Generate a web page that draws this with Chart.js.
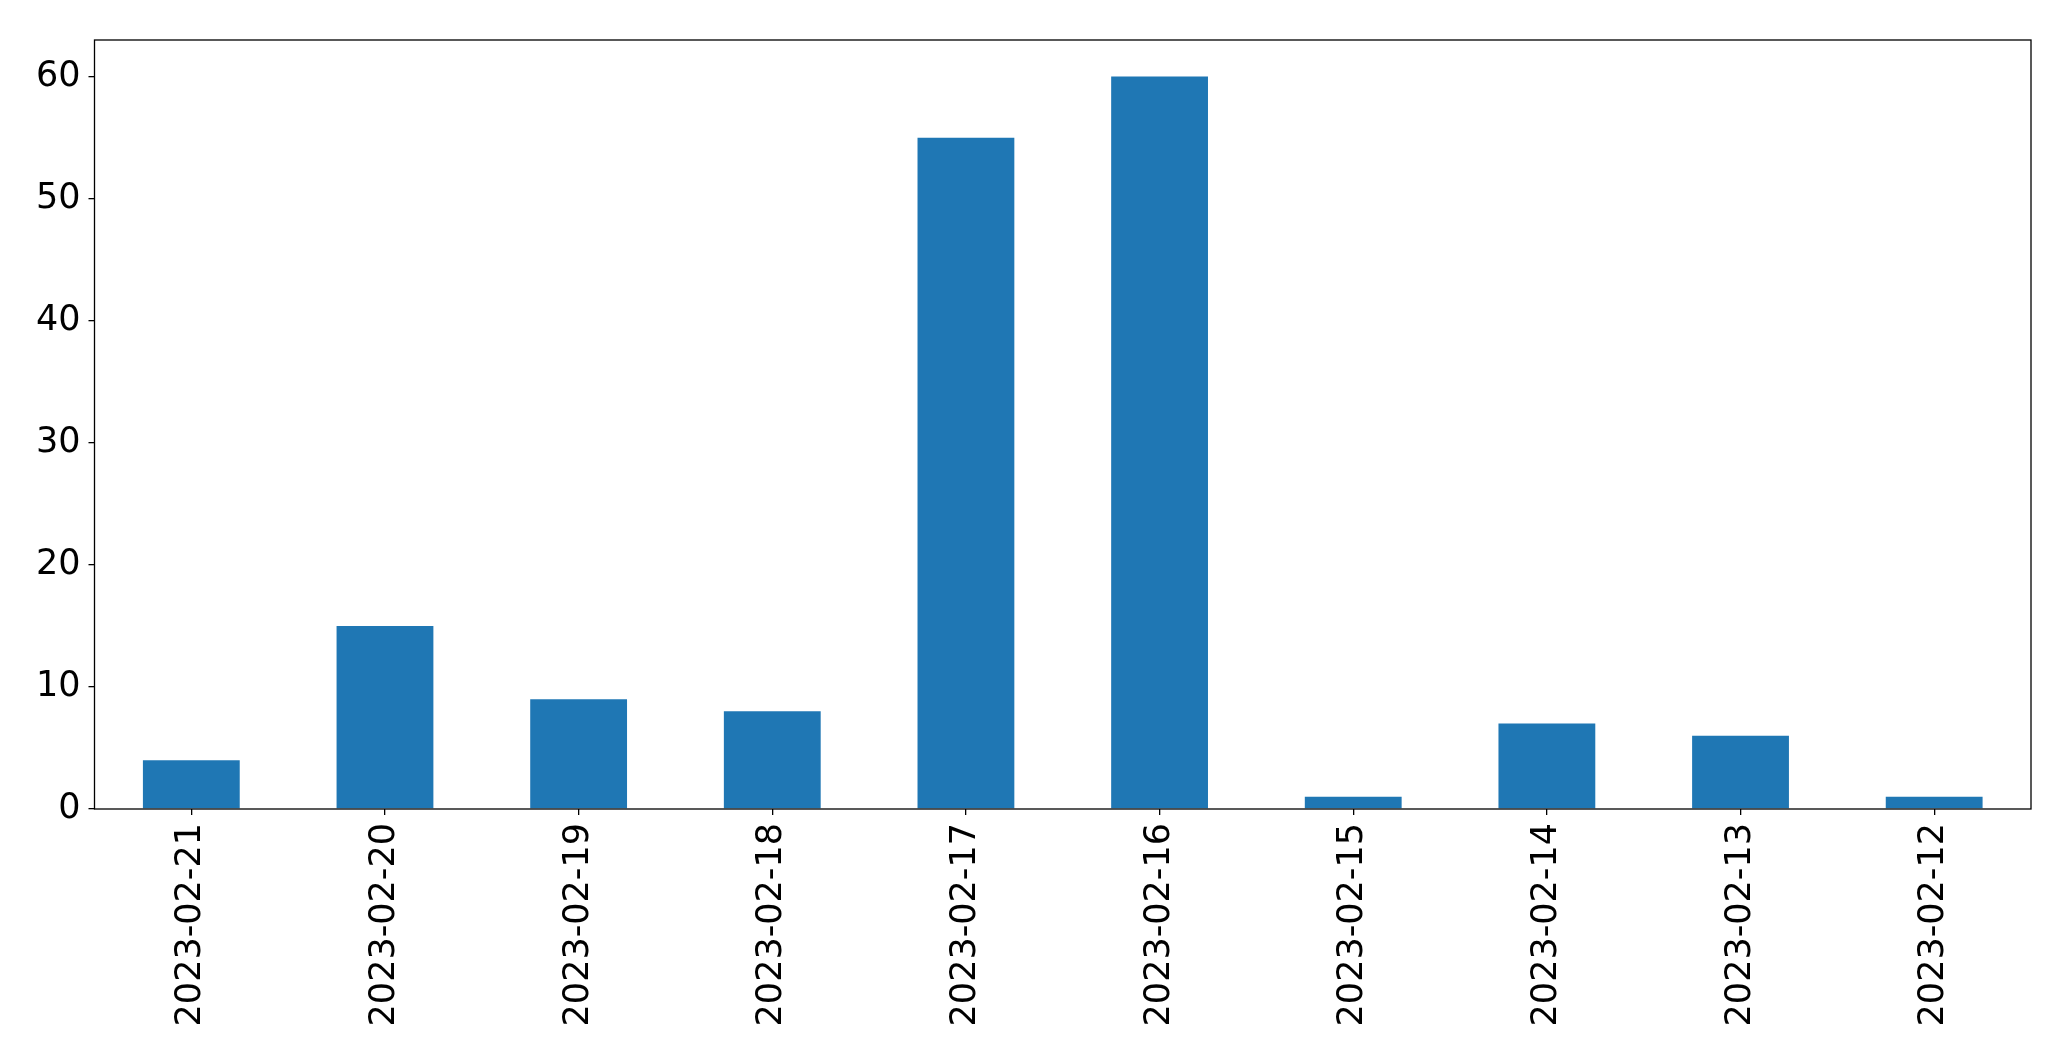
<!DOCTYPE html>
<html>
<head>
<meta charset="utf-8">
<script src="https://cdn.jsdelivr.net/npm/chart.js@4"></script>
<style>
  body { margin: 0; background: #fff; }
  canvas { display: block; }
</style>
</head>
<body>
<canvas id="chart" width="2071" height="1061"></canvas>
<script>
// data
const dates = ['2023-02-21', '2023-02-20', '2023-02-19', '2023-02-18', '2023-02-17',
               '2023-02-16', '2023-02-15', '2023-02-14', '2023-02-13', '2023-02-12'];
const counts = [4, 15, 9, 8, 55, 60, 1, 7, 6, 1];
const yTicks = [0, 10, 20, 30, 40, 50, 60];

// draws the box around the plot area, like matplotlib's spines
const frame = {
    id: 'frame',
    afterDraw(chart) {
        const { ctx, chartArea } = chart;
        ctx.save();
        ctx.strokeStyle = '#000';
        ctx.lineWidth = 1.3;
        ctx.strokeRect(chartArea.left, chartArea.top,
            chartArea.right - chartArea.left, chartArea.bottom - chartArea.top);
        ctx.restore();
    }
};

const font = { family: 'DejaVu Sans', size: 35 };

new Chart(document.getElementById('chart'), {
    type: 'bar',
    data: {
        labels: dates,
        datasets: [{
            data: counts,
            backgroundColor: '#1f77b4',
            barPercentage: 0.5,
            categoryPercentage: 1.0
        }]
    },
    options: {
        responsive: false,
        animation: false,
        layout: { padding: { top: 40, right: 40, left: 0, bottom: 0 } },
        plugins: { legend: { display: false }, tooltip: { enabled: false } },
        scales: {
            x: {
                grid: { offset: false, drawOnChartArea: false, drawTicks: true, tickLength: 6, color: '#000', lineWidth: 1.3 },
                border: { display: false },
                ticks: { color: '#000', font: font, minRotation: 90, maxRotation: 90, padding: 8, autoSkip: false },
                afterFit(scale) { scale.height = 252; }
            },
            y: {
                min: 0,
                max: 63,
                afterBuildTicks(scale) { scale.ticks = yTicks.map(v => ({ value: v })); },
                grid: { drawOnChartArea: false, drawTicks: true, tickLength: 6, color: '#000', lineWidth: 1.3 },
                border: { display: false },
                ticks: { color: '#000', font: font, padding: 8 },
                afterFit(scale) { scale.width = 94.5; }
            }
        }
    },
    plugins: [frame]
});
</script>
</body>
</html>
